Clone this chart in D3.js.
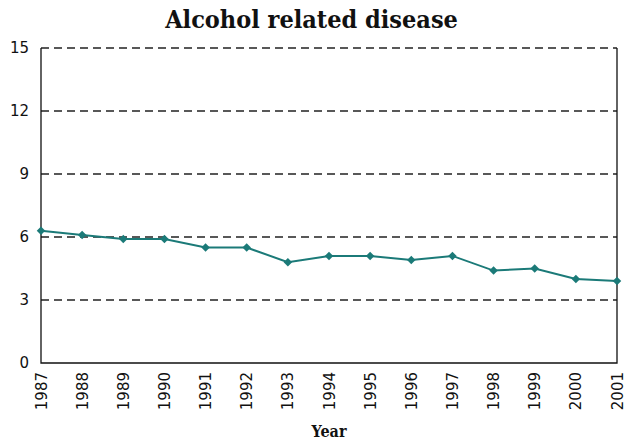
<!DOCTYPE html>
<html>
<head>
<meta charset="utf-8">
<script src="https://cdn.jsdelivr.net/npm/d3@7"></script>
<style>
  html, body { margin: 0; padding: 0; background: #fff; }
  svg { display: block; }
</style>
</head>
<body>
<svg id="chart" width="627" height="445"></svg>
<script>
// Annual figures for alcohol related disease
const years = ["1987","1988","1989","1990","1991","1992","1993","1994","1995","1996","1997","1998","1999","2000","2001"];
const values = [6.3, 6.1, 5.9, 5.9, 5.5, 5.5, 4.8, 5.1, 5.1, 4.9, 5.1, 4.4, 4.5, 4.0, 3.9];
const yTicks = [0, 3, 6, 9, 12, 15];

const svg = d3.select("#chart");
const margin = { left: 41, right: 10, top: 48, bottom: 82 };
const W = 627, H = 445;

const x = d3.scalePoint().domain(years).range([margin.left, W - margin.right]);
const y = d3.scaleLinear().domain([0, 15]).range([H - margin.bottom, margin.top]);

const teal = "#1b7a78";

// dashed gridlines
svg.append("g")
  .selectAll("line")
  .data(yTicks.filter(d => d > 0))
  .join("line")
  .attr("x1", margin.left).attr("x2", W - margin.right)
  .attr("y1", d => y(d)).attr("y2", d => y(d))
  .attr("stroke", "#222")
  .attr("stroke-width", 1.3)
  .attr("stroke-dasharray", "8,5");

// frame: left, right, bottom
const frame = svg.append("g").attr("stroke", "#111").attr("stroke-width", 1.3).attr("fill", "none");
frame.append("path")
  .attr("d", `M${margin.left},${y(15)}V${y(0)}H${W - margin.right}V${y(15)}`);

// y axis labels
const yAxis = d3.axisLeft(y).tickValues(yTicks).tickSize(0).tickPadding(12);
svg.append("g")
  .attr("transform", `translate(${margin.left},0)`)
  .call(yAxis)
  .call(g => g.select(".domain").remove())
  .selectAll("text")
  .attr("font-family", "DejaVu Sans, sans-serif")
  .attr("font-size", 15)
  .attr("fill", "#111");

// x axis labels, rotated
const xAxis = d3.axisBottom(x).tickSize(0).tickPadding(0);
svg.append("g")
  .attr("transform", `translate(0,${y(0)})`)
  .call(xAxis)
  .call(g => g.select(".domain").remove())
  .selectAll("text")
  .attr("font-family", "DejaVu Sans, sans-serif")
  .attr("font-size", 15)
  .attr("fill", "#111")
  .attr("text-anchor", "end")
  .attr("dy", null)
  .attr("transform", "translate(0,9) rotate(-90)")
  .attr("x", 0).attr("y", 0)
  .attr("dominant-baseline", "central");

// data line
const line = d3.line().x((d, i) => x(years[i])).y(d => y(d));
svg.append("path")
  .datum(values)
  .attr("d", line)
  .attr("fill", "none")
  .attr("stroke", teal)
  .attr("stroke-width", 2);

// diamond markers (squares turned 45°)
const marker = d3.symbol().type(d3.symbolSquare).size(36);
svg.append("g")
  .selectAll("path")
  .data(values)
  .join("path")
  .attr("d", marker)
  .attr("transform", (d, i) => `translate(${x(years[i])},${y(d)}) rotate(45)`)
  .attr("fill", teal);

// title
svg.append("text")
  .attr("x", W / 2 - 2).attr("y", 28)
  .attr("text-anchor", "middle")
  .attr("font-family", "DejaVu Serif Condensed, DejaVu Serif, serif")
  .attr("font-weight", "bold")
  .attr("font-size", 25)
  .attr("fill", "#111")
  .text("Alcohol related disease");

// x axis title
svg.append("text")
  .attr("x", 329).attr("y", 437)
  .attr("text-anchor", "middle")
  .attr("font-family", "DejaVu Serif Condensed, DejaVu Serif, serif")
  .attr("font-weight", "bold")
  .attr("font-size", 16)
  .attr("fill", "#111")
  .text("Year");
</script>
</body>
</html>
